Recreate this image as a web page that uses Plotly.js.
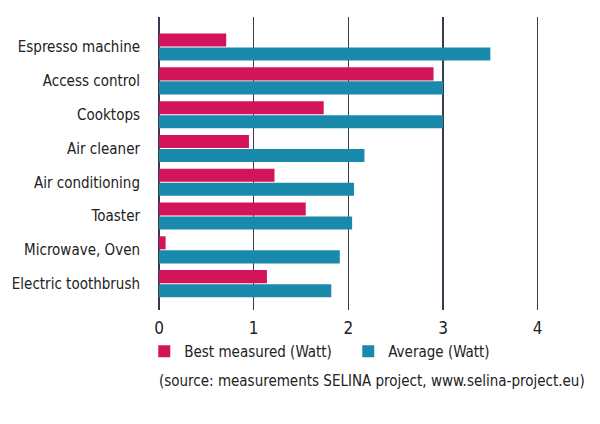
<!DOCTYPE html>
<html>
<head>
<meta charset="utf-8">
<script src="https://cdn.plot.ly/plotly-3.0.1.min.js"></script>
<style>html,body{margin:0;padding:0;background:#fff;}#chart{width:600px;height:424px;}</style>
</head>
<body>
<div id="chart"></div>
<script>
const categories = ["Espresso machine","Access control","Cooktops","Air cleaner","Air conditioning","Toaster","Microwave, Oven","Electric toothbrush"];
const bestMeasured = [0.71, 2.90, 1.74, 0.95, 1.22, 1.55, 0.07, 1.14];
const average = [3.50, 3.00, 3.00, 2.17, 2.06, 2.04, 1.91, 1.82];
const xTicks = [0, 1, 2, 3, 4];
const seriesNames = ["Best measured (Watt)", "Average (Watt)"];
const sourceText = "(source: measurements SELINA project, www.selina-project.eu)";

const FONT = '"DejaVu Sans Condensed", "Liberation Sans Narrow", sans-serif';

const traces = [
  {type:'bar', orientation:'h', name: seriesNames[0], y: categories, x: bestMeasured,
   marker:{color:'#d4145a'}},
  {type:'bar', orientation:'h', name: seriesNames[1], y: categories, x: average,
   marker:{color:'#1a8aac'}}
];

const layout = {
  width: 600, height: 424,
  margin: {l: 159, r: 20, t: 17, b: 114},
  paper_bgcolor: '#fff', plot_bgcolor: '#fff',
  barmode: 'group', bargap: 0.17, bargroupgap: 0.07,
  font: {family: FONT, size: 15, color: '#222'},
  xaxis: {
    range: [0, 4.447], tickvals: xTicks, ticktext: xTicks.map(String),
    showgrid: true, gridcolor: '#3a3a4e', gridwidth: 1.3,
    zeroline: true, zerolinecolor: '#3a3a4e', zerolinewidth: 1.3,
    showline: false, ticks: '', tickfont: {family: FONT, size: 17, color: '#222'}, ticklabelstandoff: 6
  },
  yaxis: {
    type: 'category', range: [7.78, -0.89],
    showgrid: false, zeroline: false, showline: false, ticks: '',
    tickfont: {family: FONT, size: 15, color: '#222'}, ticklabelstandoff: 18
  },
  showlegend: true,
  legend: {orientation: 'h', x: -0.035, xanchor: 'left', y: -0.085, yanchor: 'top',
    font: {family: FONT, size: 15, color: '#222'}, itemwidth: 30, traceorder: 'normal',
    entrywidth: 159, entrywidthmode: 'pixels'},
  annotations: [{
    text: sourceText, xref: 'paper', yref: 'paper', x: -0.005, y: -0.205,
    xanchor: 'left', yanchor: 'top', showarrow: false,
    font: {family: FONT, size: 15, color: '#222'}
  }]
};

Plotly.newPlot('chart', traces, layout, {displayModeBar: false, staticPlot: true});
</script>
</body>
</html>
